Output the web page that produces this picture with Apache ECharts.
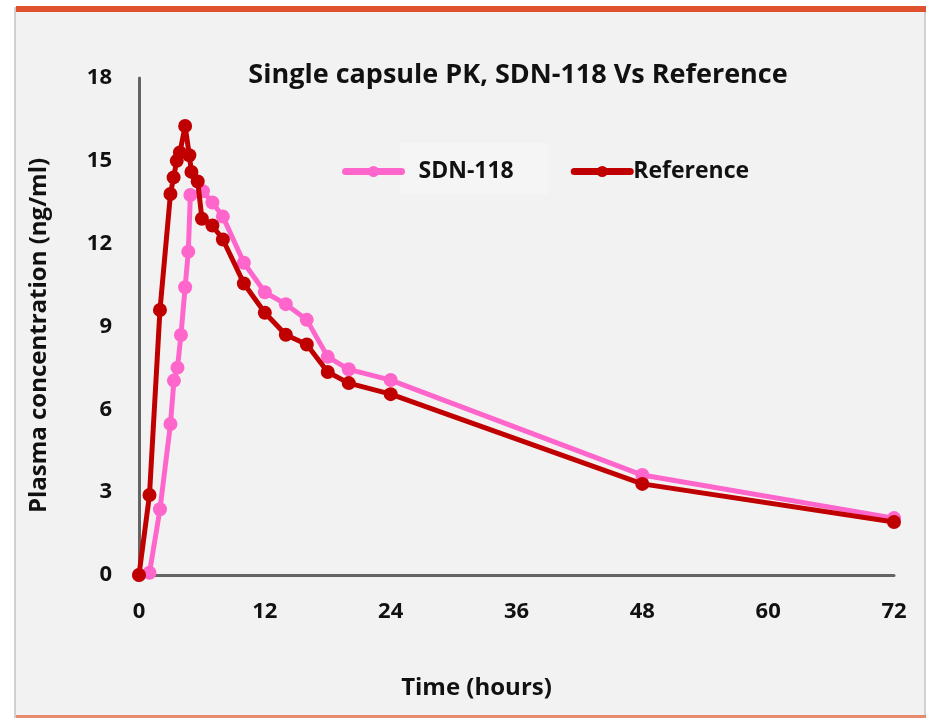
<!DOCTYPE html>
<html>
<head>
<meta charset="utf-8">
<script src="https://cdn.jsdelivr.net/npm/echarts@6/dist/echarts.min.js"></script>
<style>
  html, body { margin: 0; padding: 0; background: #ffffff; }
  #chart { width: 928px; height: 718px; }
</style>
</head>
<body>
<div id="chart"></div>
<script>
// sampling times (hours) and concentrations (ng/ml)
var sdnTimes = [0, 1, 2, 3, 3.33, 3.67, 4, 4.4, 4.7, 4.9, 6.1, 7, 8, 10, 12, 14, 16, 18, 20, 24, 48, 72]
var sdnValues = [0, 0.08, 2.38, 5.47, 7.04, 7.51, 8.69, 10.42, 11.71, 13.76, 13.9, 13.49, 12.98, 11.31, 10.24, 9.81, 9.24, 7.9, 7.45, 7.06, 3.62, 2.06]
var refTimes = [0, 1, 2, 3, 3.3, 3.6, 3.9, 4.4, 4.8, 5, 5.6, 6, 7, 8, 10, 12, 14, 16, 18, 20, 24, 48, 72]
var refValues = [0, 2.9, 9.6, 13.8, 14.4, 15.0, 15.3, 16.26, 15.2, 14.6, 14.25, 12.9, 12.66, 12.15, 10.56, 9.5, 8.7, 8.35, 7.35, 6.95, 6.55, 3.3, 1.92]
var xTicks = [0, 12, 24, 36, 48, 60, 72]
var yTicks = [0, 3, 6, 9, 12, 15, 18]

function pairs(xs, ys) {
  return xs.map(function (x, i) { return [x, ys[i]] })
}

var chart = echarts.init(document.getElementById('chart'))
var font = '"Open Sans", "Noto Sans", sans-serif'
var ink = '#111111'

var option = {
  backgroundColor: '#ffffff',
  animation: false,
  textStyle: { fontFamily: font },
  title: {
    text: 'Single capsule PK, SDN-118 Vs Reference',
    left: 513,
    textAlign: 'center',
    top: 57,
    textStyle: { fontSize: 27, fontWeight: 'bold', color: ink, fontFamily: font }
  },
  graphic: [
    { type: 'rect', z: -10, shape: { x: 15, y: 8, width: 910, height: 712 }, style: { fill: '#f2f2f2', stroke: '#c4c4c4', lineWidth: 1.5 } },
    { type: 'rect', z: -9, shape: { x: 16, y: 6, width: 910, height: 6 }, style: { fill: '#e0522d' } },
    { type: 'rect', z: -9, shape: { x: 16, y: 715, width: 910, height: 3 }, style: { fill: '#e88a70' } },
    { type: 'rect', z: -8, shape: { x: 400, y: 143, width: 148, height: 51 }, style: { fill: '#f5f5f5' } }
  ],
  legend: {
    left: 342,
    top: 160,
    padding: 0,
    itemWidth: 56,
    itemHeight: 14,
    itemGap: 57,
    textStyle: { fontSize: 23, fontWeight: 'bold', color: ink, fontFamily: font },
    data: [
      { name: 'SDN-118', textStyle: { padding: [0, 0, 0, 12] }, lineStyle: { width: 7, cap: 'round' } },
      { name: 'Reference', textStyle: { padding: [0, 0, 0, -2] }, lineStyle: { width: 7, cap: 'round' } }
    ]
  },
  grid: { left: 139, right: 34, top: 78, bottom: 143 },
  xAxis: {
    type: 'value',
    min: 0,
    max: 72,
    interval: 12,
    name: 'Time (hours)',
    nameLocation: 'middle',
    nameGap: 101,
    nameTextStyle: { fontSize: 24, fontWeight: 'bold', color: ink, padding: [0, 80, 0, 0] },
    axisLine: { lineStyle: { color: '#646464', width: 3 } },
    axisTick: { show: false },
    splitLine: { show: false },
    axisLabel: {
      fontSize: 22, fontWeight: 'bold', color: ink, margin: 26,
      formatter: function (v) { return xTicks.indexOf(v) >= 0 ? String(v) : '' }
    }
  },
  yAxis: {
    type: 'value',
    min: 0,
    max: 18,
    interval: 3,
    name: 'Plasma concentration (ng/ml)',
    nameLocation: 'middle',
    nameGap: 88,
    nameTextStyle: { fontSize: 24, fontWeight: 'bold', color: ink, padding: [0, 18, 0, 0] },
    axisLine: { show: true, lineStyle: { color: '#646464', width: 3 } },
    axisTick: { show: false },
    splitLine: { show: false },
    axisLabel: {
      fontSize: 22, fontWeight: 'bold', color: ink, margin: 27,
      formatter: function (v) { return yTicks.indexOf(v) >= 0 ? String(v) : '' }
    }
  },
  series: [
    {
      name: 'SDN-118',
      type: 'line',
      data: pairs(sdnTimes, sdnValues),
      symbol: 'circle',
      symbolSize: 14,
      lineStyle: { color: '#ff66cc', width: 5 },
      itemStyle: { color: '#ff66cc' },
      z: 2
    },
    {
      name: 'Reference',
      type: 'line',
      data: pairs(refTimes, refValues),
      symbol: 'circle',
      symbolSize: 14,
      lineStyle: { color: '#c00000', width: 5 },
      itemStyle: { color: '#c00000' },
      z: 3
    }
  ]
}

chart.setOption(option)
</script>
</body>
</html>
